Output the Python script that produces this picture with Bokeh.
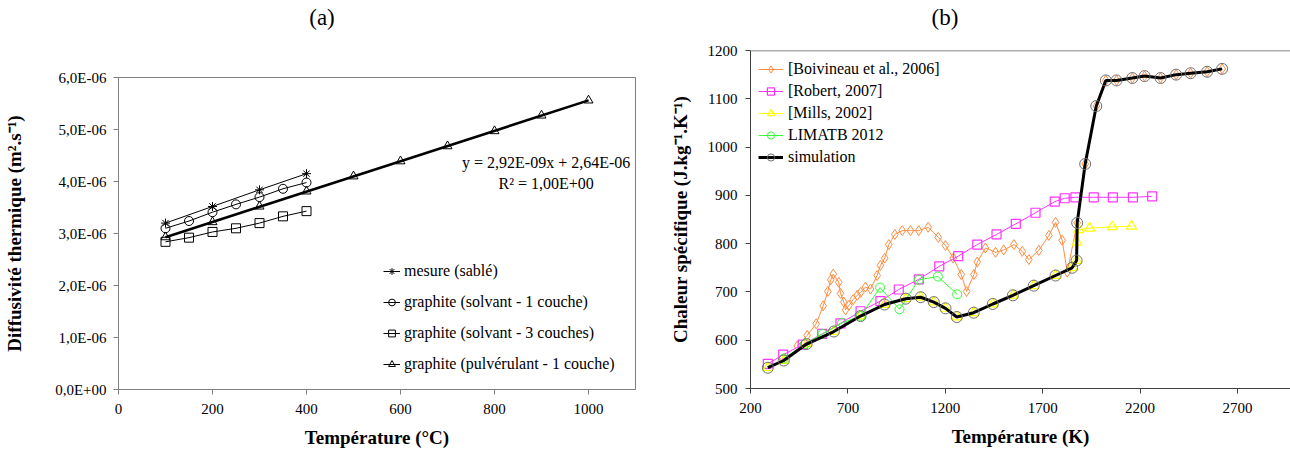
from bokeh.plotting import figure
from bokeh.layouts import row, column
from bokeh.models import (Legend, LegendItem, FixedTicker, Label, Span, Div,
                          CustomJSTickFormatter, Range1d)
from bokeh.embed import file_html
from bokeh.resources import INLINE

FONT = "Liberation Serif"

# ---------------- (a) data ----------------
x_ticks_a = [0, 200, 400, 600, 800, 1000]
y_ticks_a = [0, 1e-6, 2e-6, 3e-6, 4e-6, 5e-6, 6e-6]

T_mesure = [100, 200, 300, 400]
D_mesure = [3.20e-6, 3.52e-6, 3.84e-6, 4.15e-6]

T_solv1 = [100, 150, 200, 250, 300, 350, 400]
D_solv1 = [3.10e-6, 3.24e-6, 3.41e-6, 3.56e-6, 3.70e-6, 3.86e-6, 3.98e-6]

T_solv3 = [100, 150, 200, 250, 300, 350, 400]
D_solv3 = [2.84e-6, 2.92e-6, 3.03e-6, 3.10e-6, 3.20e-6, 3.33e-6, 3.43e-6]

T_pulv = [100, 200, 300, 400, 500, 600, 700, 800, 900, 1000]
D_pulv = [2.93e-6, 3.22e-6, 3.52e-6, 3.81e-6, 4.10e-6, 4.39e-6, 4.68e-6, 4.97e-6, 5.27e-6, 5.56e-6]

T_trend = [100, 1000]
D_trend = [2.93e-6, 5.56e-6]

labels_a = ["mesure (sablé)", "graphite (solvant - 1 couche)",
            "graphite (solvant - 3 couches)", "graphite (pulvérulant - 1 couche)"]
eq_text = "y = 2,92E-09x + 2,64E-06"
r2_text = "R² = 1,00E+00"

# ---------------- (b) data ----------------
x_ticks_b = [200, 700, 1200, 1700, 2200, 2700]
y_ticks_b = [500, 600, 700, 800, 900, 1000, 1100, 1200]

T_boiv = [440, 491, 537, 573, 597, 612, 625, 653, 662, 679, 688, 705, 727, 748, 765, 790,
          816, 850, 867, 889, 910, 941, 979, 1021, 1064, 1112, 1164, 1201, 1241, 1282, 1309,
          1347, 1364, 1406, 1458, 1500, 1552, 1595, 1629, 1680, 1732, 1766, 1800, 1826, 1877,
          1918, 1975, 2024, 2079, 2160, 2223, 2305, 2385, 2459, 2544, 2621]
C_boiv = [588, 610, 634, 671, 701, 725, 737, 720, 697, 679, 663, 672, 684, 693, 699, 710,
          706, 734, 755, 770, 798, 819, 827, 827, 827, 834, 813, 796, 770, 736, 701,
          736, 762, 791, 782, 787, 798, 784, 767, 786, 817, 844, 807, 741, 843,
          965, 1085, 1138, 1138, 1143, 1147, 1143, 1150, 1153, 1156, 1162]

T_rob = [289, 368, 468, 568, 662, 765, 867, 961, 1064, 1169, 1266, 1364, 1463, 1562, 1663,
         1762, 1813, 1868, 1962, 2060, 2163, 2262]
C_rob = [551, 570, 591, 613, 635, 660, 681, 705, 726, 753, 774, 798, 819, 841, 864,
         887, 894, 896, 896, 896, 896, 898]

T_mills = [289, 371, 488, 628, 765, 888, 997, 1074, 1141, 1201, 1259, 1346, 1444, 1547, 1654,
           1766, 1851, 1874, 1876, 1885, 1941, 2057, 2156]
C_mills = [543, 558, 592, 618, 650, 674, 686, 689, 679, 666, 648, 657, 675, 693, 713,
           734, 750, 765, 803, 829, 832, 835, 836]

T_lim = [370, 480, 570, 670, 765, 865, 965, 1064, 1162, 1261]
C_lim = [562, 592, 613, 636, 650, 709, 664, 725, 732, 695]

T_sim = [289, 371, 488, 628, 765, 888, 997, 1074, 1141, 1201, 1259, 1346, 1444, 1547, 1654,
         1766, 1851, 1874, 1877, 1918, 1975, 2024, 2079, 2160, 2223, 2305, 2385, 2459, 2544, 2621]
C_sim = [543, 558, 592, 618, 650, 674, 686, 689, 679, 666, 648, 657, 675, 693, 713,
         734, 750, 765, 843, 965, 1085, 1138, 1138, 1143, 1147, 1143, 1150, 1153, 1156, 1162]

labels_b = ["[Boivineau et al., 2006]", "[Robert, 2007]", "[Mills, 2002]", "LIMATB 2012", "simulation"]


def style_axes(p, axis_color):
    for ax in p.axis:
        ax.axis_line_color = axis_color
        ax.major_tick_line_color = axis_color
        ax.major_tick_out = 5
        ax.major_tick_in = 0
        ax.minor_tick_line_color = None
        ax.major_label_text_font = FONT
        ax.major_label_text_font_size = "15px"
        ax.major_label_text_color = "black"
        ax.axis_label_text_font = FONT
        ax.axis_label_text_font_style = "bold"
        ax.axis_label_text_font_size = "19px"
        ax.axis_label_text_color = "black"
    p.grid.visible = False


def title_div(txt, w):
    return Div(text=txt, width=w, height=36, margin=0,
               styles={"font-family": FONT, "font-size": "23px", "text-align": "center",
                       "line-height": "36px", "color": "black"})


# ================= (a) =================
pa = figure(width=650, height=416, output_backend="svg", toolbar_location=None,
            x_range=Range1d(0, 1100), y_range=Range1d(0, 6e-6),
            min_border_left=118, min_border_right=15, min_border_top=41, min_border_bottom=63)
pa.outline_line_color = "#808080"
pa.xaxis.axis_label = "Température (°C)"
pa.yaxis.axis_label = "Diffusivité thermique (m².s⁻¹)"
pa.xaxis.ticker = FixedTicker(ticks=x_ticks_a)
pa.yaxis.ticker = FixedTicker(ticks=y_ticks_a)
pa.yaxis.formatter = CustomJSTickFormatter(code="""
    if (Math.abs(tick) < 1e-12) { return '0,0E+00'; }
    return (tick * 1e6).toFixed(1).replace('.', ',') + 'E-06';
""")
style_axes(pa, "#808080")
pa.xaxis.major_label_standoff = 9
pa.xaxis.axis_label_standoff = 10
pa.yaxis.major_label_standoff = 7
pa.yaxis.axis_label_standoff = 27

r_pl = pa.line(T_pulv, D_pulv, line_color="black", line_width=1)
r_trend = pa.line(T_trend, D_trend, line_color="black", line_width=2.6)
r_pm = pa.scatter(T_pulv, D_pulv, marker="triangle", size=9, line_color="black",
                  fill_color=None, line_width=1)
r_ml = pa.line(T_mesure, D_mesure, line_color="black", line_width=1)
r_mm = pa.scatter(T_mesure, D_mesure, marker="asterisk", size=9, line_color="black", line_width=1)
r_s1l = pa.line(T_solv1, D_solv1, line_color="black", line_width=1)
r_s1m = pa.scatter(T_solv1, D_solv1, marker="circle", size=9, line_color="black",
                   fill_color=None, line_width=1)
r_s3l = pa.line(T_solv3, D_solv3, line_color="black", line_width=1)
r_s3m = pa.scatter(T_solv3, D_solv3, marker="square", size=9, line_color="black",
                   fill_color=None, line_width=1)

leg_a = Legend(items=[
    LegendItem(label=labels_a[0], renderers=[r_ml, r_mm]),
    LegendItem(label=labels_a[1], renderers=[r_s1l, r_s1m]),
    LegendItem(label=labels_a[2], renderers=[r_s3l, r_s3m]),
    LegendItem(label=labels_a[3], renderers=[r_pl, r_pm]),
], location=(265, 15), orientation="vertical",
    label_text_font=FONT, label_text_font_size="16px", label_text_color="black",
    glyph_width=17, glyph_height=20, label_height=20, spacing=11, padding=4, margin=0,
    label_standoff=4, border_line_color=None, background_fill_color="white",
    background_fill_alpha=1.0)
pa.add_layout(leg_a)

pa.add_layout(Label(x=910, y=4.37e-6, text=eq_text, text_align="center", text_baseline="middle",
                    text_font=FONT, text_font_size="16px", text_color="black"))
pa.add_layout(Label(x=910, y=3.96e-6, text=r2_text, text_align="center", text_baseline="middle",
                    text_font=FONT, text_font_size="16px", text_color="black"))

# ================= (b) =================
pb = figure(width=640, height=416, output_backend="svg", toolbar_location=None,
            x_range=Range1d(200, 2972), y_range=Range1d(500, 1200),
            min_border_left=100, min_border_right=0, min_border_top=14, min_border_bottom=64)
pb.outline_line_color = None
pb.xaxis.axis_label = "Température (K)"
pb.yaxis.axis_label = "Chaleur spécifique (J.kg⁻¹.K⁻¹)"
pb.xaxis.ticker = FixedTicker(ticks=x_ticks_b)
pb.yaxis.ticker = FixedTicker(ticks=y_ticks_b)
style_axes(pb, "#404040")
pb.xaxis.major_label_standoff = 9
pb.xaxis.axis_label_standoff = 10
pb.yaxis.major_label_standoff = 8
pb.yaxis.axis_label_standoff = 14
pb.add_layout(Span(location=1200, dimension="width", line_color="#606060", line_width=1.5))

ORANGE = "#FF8C40"
MAGENTA = "#FF33FF"
YELLOW = "#FFFF00"
GREEN = "#33FF33"

rb_l = pb.line(T_boiv, C_boiv, line_color=ORANGE, line_width=1)
rb_m = pb.scatter(T_boiv, C_boiv, marker="diamond", size=10, line_color=ORANGE,
                  fill_color=None, line_width=1)
rr_l = pb.line(T_rob, C_rob, line_color=MAGENTA, line_width=1)
rr_m = pb.scatter(T_rob, C_rob, marker="square", size=9, line_color=MAGENTA,
                  fill_color=None, line_width=1.2)
rm_l = pb.line(T_mills, C_mills, line_color=YELLOW, line_width=1)
rm_m = pb.scatter(T_mills, C_mills, marker="triangle", size=10, line_color=YELLOW,
                  fill_color=None, line_width=1.2)
rl_l = pb.line(T_lim, C_lim, line_color=GREEN, line_width=1)
rl_m = pb.scatter(T_lim, C_lim, marker="circle", size=9, line_color=GREEN,
                  fill_color=None, line_width=1)
rs_l = pb.line(T_sim, C_sim, line_color="black", line_width=3)
rs_m = pb.scatter(T_sim, C_sim, marker="circle", size=11, line_color="#707070",
                  fill_color=None, line_width=1)

leg_b = Legend(items=[
    LegendItem(label=labels_b[0], renderers=[rb_l, rb_m]),
    LegendItem(label=labels_b[1], renderers=[rr_l, rr_m]),
    LegendItem(label=labels_b[2], renderers=[rm_l, rm_m]),
    LegendItem(label=labels_b[3], renderers=[rl_l, rl_m]),
    LegendItem(label=labels_b[4], renderers=[rs_l, rs_m]),
], location=(8, 222), orientation="vertical",
    label_text_font=FONT, label_text_font_size="16px", label_text_color="black",
    glyph_width=25, glyph_height=18, label_height=18, spacing=4, padding=3, margin=0,
    label_standoff=5, border_line_color=None, background_fill_alpha=0.0)
pb.add_layout(leg_b)

left = column(title_div("(a)", 644), pa, spacing=0)
right = column(title_div("(b)", 590), pb, spacing=0)
layout = row(left, right, spacing=0)
open("out.html", "w").write(file_html(layout, INLINE))
